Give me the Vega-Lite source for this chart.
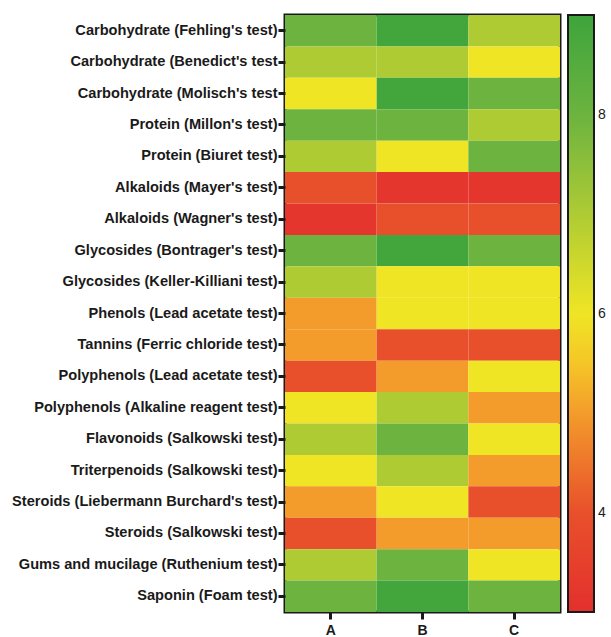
{
  "$schema": "https://vega.github.io/schema/vega-lite/v6.json",
  "width": 275,
  "height": 597,
  "autosize": {"type": "none"},
  "padding": {"left": 285, "top": 15, "right": 51, "bottom": 25},
  "background": "white",
  "config": {
    "view": {"stroke": "#1a1a1a", "strokeWidth": 3},
    "font": "Liberation Sans"
  },
  "data": {
    "values": [
      {"test": "Carbohydrate (Fehling's test)", "group": "A", "value": 8.0},
      {"test": "Carbohydrate (Fehling's test)", "group": "B", "value": 8.9},
      {"test": "Carbohydrate (Fehling's test)", "group": "C", "value": 7.0},
      {"test": "Carbohydrate (Benedict's test", "group": "A", "value": 7.0},
      {"test": "Carbohydrate (Benedict's test", "group": "B", "value": 7.0},
      {"test": "Carbohydrate (Benedict's test", "group": "C", "value": 6.0},
      {"test": "Carbohydrate (Molisch's test", "group": "A", "value": 6.0},
      {"test": "Carbohydrate (Molisch's test", "group": "B", "value": 8.9},
      {"test": "Carbohydrate (Molisch's test", "group": "C", "value": 8.0},
      {"test": "Protein (Millon's test)", "group": "A", "value": 8.0},
      {"test": "Protein (Millon's test)", "group": "B", "value": 8.0},
      {"test": "Protein (Millon's test)", "group": "C", "value": 7.0},
      {"test": "Protein (Biuret test)", "group": "A", "value": 7.0},
      {"test": "Protein (Biuret test)", "group": "B", "value": 6.0},
      {"test": "Protein (Biuret test)", "group": "C", "value": 8.0},
      {"test": "Alkaloids (Mayer's test)", "group": "A", "value": 4.0},
      {"test": "Alkaloids (Mayer's test)", "group": "B", "value": 3.2},
      {"test": "Alkaloids (Mayer's test)", "group": "C", "value": 3.2},
      {"test": "Alkaloids (Wagner's test)", "group": "A", "value": 3.2},
      {"test": "Alkaloids (Wagner's test)", "group": "B", "value": 4.0},
      {"test": "Alkaloids (Wagner's test)", "group": "C", "value": 4.0},
      {"test": "Glycosides (Bontrager's test)", "group": "A", "value": 8.0},
      {"test": "Glycosides (Bontrager's test)", "group": "B", "value": 8.9},
      {"test": "Glycosides (Bontrager's test)", "group": "C", "value": 8.0},
      {"test": "Glycosides (Keller-Killiani test)", "group": "A", "value": 7.0},
      {"test": "Glycosides (Keller-Killiani test)", "group": "B", "value": 6.0},
      {"test": "Glycosides (Keller-Killiani test)", "group": "C", "value": 6.0},
      {"test": "Phenols (Lead acetate test)", "group": "A", "value": 5.0},
      {"test": "Phenols (Lead acetate test)", "group": "B", "value": 6.0},
      {"test": "Phenols (Lead acetate test)", "group": "C", "value": 6.0},
      {"test": "Tannins (Ferric chloride test)", "group": "A", "value": 5.0},
      {"test": "Tannins (Ferric chloride test)", "group": "B", "value": 4.0},
      {"test": "Tannins (Ferric chloride test)", "group": "C", "value": 4.0},
      {"test": "Polyphenols (Lead acetate test)", "group": "A", "value": 4.0},
      {"test": "Polyphenols (Lead acetate test)", "group": "B", "value": 5.0},
      {"test": "Polyphenols (Lead acetate test)", "group": "C", "value": 6.0},
      {"test": "Polyphenols (Alkaline reagent test)", "group": "A", "value": 6.0},
      {"test": "Polyphenols (Alkaline reagent test)", "group": "B", "value": 7.0},
      {"test": "Polyphenols (Alkaline reagent test)", "group": "C", "value": 5.0},
      {"test": "Flavonoids (Salkowski test)", "group": "A", "value": 7.0},
      {"test": "Flavonoids (Salkowski test)", "group": "B", "value": 8.0},
      {"test": "Flavonoids (Salkowski test)", "group": "C", "value": 6.0},
      {"test": "Triterpenoids (Salkowski test)", "group": "A", "value": 6.0},
      {"test": "Triterpenoids (Salkowski test)", "group": "B", "value": 7.0},
      {"test": "Triterpenoids (Salkowski test)", "group": "C", "value": 5.0},
      {"test": "Steroids (Liebermann Burchard's test)", "group": "A", "value": 5.0},
      {"test": "Steroids (Liebermann Burchard's test)", "group": "B", "value": 6.0},
      {"test": "Steroids (Liebermann Burchard's test)", "group": "C", "value": 4.0},
      {"test": "Steroids (Salkowski test)", "group": "A", "value": 4.0},
      {"test": "Steroids (Salkowski test)", "group": "B", "value": 5.0},
      {"test": "Steroids (Salkowski test)", "group": "C", "value": 5.0},
      {"test": "Gums and mucilage (Ruthenium test)", "group": "A", "value": 7.0},
      {"test": "Gums and mucilage (Ruthenium test)", "group": "B", "value": 8.0},
      {"test": "Gums and mucilage (Ruthenium test)", "group": "C", "value": 6.0},
      {"test": "Saponin (Foam test)", "group": "A", "value": 8.0},
      {"test": "Saponin (Foam test)", "group": "B", "value": 8.9},
      {"test": "Saponin (Foam test)", "group": "C", "value": 8.0}
    ]
  },
  "mark": {"type": "rect", "strokeWidth": 0},
  "encoding": {
    "x": {
      "field": "group", "type": "nominal", "sort": ["A", "B", "C"],
      "scale": {"paddingInner": 0, "paddingOuter": 0},
      "axis": {
        "title": null, "labelAngle": 0, "domain": false,
        "tickColor": "#1a1a1a", "tickWidth": 3, "tickSize": 7,
        "labelFont": "Liberation Sans", "labelFontWeight": "bold", "labelFontSize": 14,
        "labelColor": "#1a1a1a", "labelPadding": 4
      }
    },
    "y": {
      "field": "test", "type": "nominal", "sort": null,
      "scale": {"paddingInner": 0, "paddingOuter": 0},
      "axis": {
        "title": null, "domain": false,
        "tickColor": "#1a1a1a", "tickWidth": 3, "tickSize": 7,
        "labelFont": "Liberation Sans", "labelFontWeight": "bold", "labelFontSize": 14.6,
        "labelColor": "#1a1a1a", "labelPadding": 1, "labelLimit": 400
      }
    },
    "color": {
      "field": "value", "type": "quantitative",
      "scale": {
        "domain": [3, 4, 5, 5.9, 7, 8, 9],
        "range": ["#e3302d", "#e8502b", "#f39c2b", "#f6e823", "#aecb34", "#6cb33f", "#3da43c"],
        "interpolate": "rgb"
      },
      "legend": {
        "title": null, "orient": "right", "offset": 8,
        "gradientLength": 597, "gradientThickness": 26,
        "gradientStrokeColor": "#1a1a1a", "gradientStrokeWidth": 2,
        "values": [4, 6, 8], "format": "d",
        "labelFont": "Liberation Sans", "labelFontSize": 14, "labelColor": "#1a1a1a",
        "labelOffset": 4
      }
    }
  }
}
